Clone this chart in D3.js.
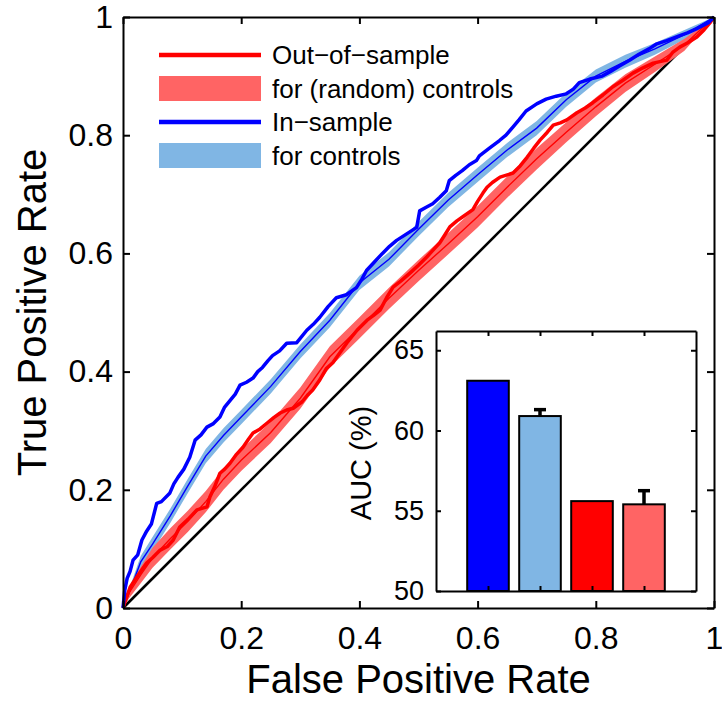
<!DOCTYPE html>
<html>
<head>
<meta charset="utf-8">
<script src="https://cdn.jsdelivr.net/npm/d3@7"></script>
<style>
  body { margin: 0; background: #fff; }
  svg { display: block; font-family: "Liberation Sans", Arial, Helvetica, sans-serif; }
</style>
</head>
<body>
<svg id="chart" width="722" height="702"></svg>
<script>
//DATA
// in-sample ROC curve [fpr, tpr]
const inSample = [[0,0],[.003,.03],[.007,.05],[.012,.062],[.017,.081],[.025,.09],[.032,.115],[.04,.13],[.048,.142],[.057,.177],[.065,.18],[.079,.194],[.086,.21],[.093,.221],[.103,.235],[.113,.255],[.122,.284],[.132,.293],[.142,.306],[.153,.312],[.164,.323],[.172,.34],[.181,.351],[.19,.362],[.198,.377],[.209,.382],[.22,.389],[.228,.4],[.236,.407],[.245,.418],[.253,.427],[.265,.435],[.277,.448],[.294,.449],[.311,.47],[.322,.48],[.333,.492],[.347,.51],[.361,.525],[.378,.53],[.395,.542],[.404,.556],[.412,.571],[.425,.585],[.439,.6],[.451,.612],[.463,.622],[.48,.633],[.497,.644],[.502,.672],[.513,.678],[.524,.684],[.536,.695],[.547,.706],[.552,.723],[.563,.732],[.574,.74],[.586,.75],[.598,.757],[.603,.765],[.62,.778],[.637,.791],[.648,.8],[.659,.813],[.67,.826],[.682,.841],[.7,.853],[.716,.861],[.733,.866],[.75,.87],[.762,.878],[.772,.889],[.79,.895],[.811,.9],[.825,.908],[.84,.917],[.857,.927],[.873,.937],[.89,.946],[.902,.954],[.92,.96],[.941,.968],[.955,.973],[.97,.98],[.99,.99],[1,1]]

// out-of-sample ROC curve [fpr, tpr]
const outSample = [[0,0],[.005,.015],[.012,.035],[.025,.055],[.04,.076],[.05,.085],[.063,.098],[.075,.104],[.085,.115],[.096,.137],[.11,.15],[.125,.166],[.142,.171],[.147,.188],[.155,.205],[.164,.228],[.172,.235],[.181,.245],[.192,.26],[.203,.272],[.212,.285],[.22,.296],[.232,.303],[.244,.313],[.255,.322],[.266,.33],[.277,.335],[.288,.338],[.303,.349],[.312,.36],[.321,.369],[.333,.386],[.344,.405],[.355,.415],[.367,.432],[.379,.449],[.396,.47],[.413,.487],[.424,.495],[.435,.504],[.446,.525],[.457,.543],[.47,.553],[.486,.567],[.5,.58],[.514,.594],[.525,.606],[.536,.618],[.545,.632],[.553,.645],[.565,.655],[.575,.662],[.592,.674],[.6,.688],[.609,.702],[.616,.712],[.625,.72],[.638,.729],[.66,.736],[.672,.748],[.684,.763],[.695,.778],[.706,.792],[.718,.805],[.728,.817],[.74,.821],[.751,.826],[.768,.838],[.782,.846],[.795,.855],[.812,.868],[.829,.882],[.846,.893],[.863,.905],[.88,.914],[.897,.922],[.92,.927],[.93,.94],[.942,.949],[.955,.956],[.971,.966],[.983,.978],[.993,.99],[1,1]]

// control curves, sampled on a common fpr grid
const ctrlFpr     = [0, .01, .03, .05, .08, .11, .14, .17, .2, .25, .3, .35, .4, .45, .5, .55, .6, .65, .7, .75, .8, .85, .9, .95, 1]
const ctrlInMean  = [0, .025, .078, .108, .156, .207, .257, .292, .323, .375, .434, .487, .55, .59, .641, .69, .733, .775, .812, .86, .9, .925, .946, .97, 1]
const ctrlInLow   = [0, .019, .068, .096, .144, .195, .245, .28, .311, .363, .422, .475, .538, .578, .629, .678, .721, .763, .8, .848, .889, .914, .936, .962, 1]
const ctrlInHigh  = [0, .031, .088, .12, .168, .219, .269, .304, .335, .387, .446, .499, .562, .602, .653, .702, .745, .787, .824, .872, .911, .936, .956, .978, 1]
const ctrlOutMean = [0, .025, .056, .085, .117, .147, .18, .218, .25, .297, .355, .425, .474, .524, .571, .616, .662, .712, .76, .805, .848, .888, .92, .953, 1]
const ctrlOutLow  = [0, .016, .042, .068, .099, .129, .162, .2, .232, .279, .337, .407, .456, .506, .553, .598, .644, .694, .742, .788, .832, .873, .907, .943, 1]
const ctrlOutHigh = [0, .034, .07, .102, .135, .165, .198, .236, .268, .315, .373, .443, .492, .542, .589, .634, .68, .73, .778, .822, .864, .903, .933, .963, 1]

// inset bars
const aucLabels = ['In-sample', 'In controls', 'Out-of-sample', 'Random controls']
const aucValues = [63.1, 60.9, 55.6, 55.4]
const aucErr    = [0, 0.4, 0, 0.85]
const aucColors = ['#0000ff', '#80b6e4', '#ff0000', '#ff6464']

const mainTicks = [0, 0.2, 0.4, 0.6, 0.8, 1]
const insetTicks = [50, 55, 60, 65]

const legendItems = [
  {label: 'Out\u2212of\u2212sample', type: 'line', color: '#ff0000'},
  {label: 'for (random) controls', type: 'rect', color: '#ff6464'},
  {label: 'In\u2212sample', type: 'line', color: '#0000ff'},
  {label: 'for controls', type: 'rect', color: '#80b6e4'}
]

//SETUP
const svg = d3.select('#chart')
const pL = 123, pR = 714, pT = 17, pB = 608

const x = d3.scaleLinear().domain([0, 1]).range([pL, pR])
const y = d3.scaleLinear().domain([0, 1]).range([pB, pT])

const fmt = d => d === 0 || d === 1 ? String(d) : d3.format('.1f')(d)

// diagonal chance line (drawn first so the bands sit over it)
svg.append('line')
  .attr('x1', x(0)).attr('y1', y(0))
  .attr('x2', x(1)).attr('y2', y(1))
  .attr('stroke', '#000').attr('stroke-width', 2.6)

// bands
const band = (lo, hi) => d3.area()
  .x((d, i) => x(ctrlFpr[i]))
  .y0((d, i) => y(lo[i]))
  .y1((d, i) => y(hi[i]))(ctrlFpr)

svg.append('path').attr('d', band(ctrlInLow, ctrlInHigh)).attr('fill', '#80b6e4')
svg.append('path').attr('d', band(ctrlOutLow, ctrlOutHigh)).attr('fill', '#ff6464')

const meanLine = d3.line().x((d, i) => x(ctrlFpr[i])).y(d => y(d))
svg.append('path').attr('d', meanLine(ctrlInMean))
  .attr('fill', 'none').attr('stroke', '#0000ff').attr('stroke-width', 1.4)
svg.append('path').attr('d', meanLine(ctrlOutMean))
  .attr('fill', 'none').attr('stroke', '#ff0000').attr('stroke-width', 1.4)

const roc = d3.line().x(d => x(d[0])).y(d => y(d[1]))
svg.append('path').attr('d', roc(outSample))
  .attr('fill', 'none').attr('stroke', '#ff0000').attr('stroke-width', 3.5)
  .attr('stroke-linejoin', 'round')
svg.append('path').attr('d', roc(inSample))
  .attr('fill', 'none').attr('stroke', '#0000ff').attr('stroke-width', 3.5)
  .attr('stroke-linejoin', 'round')

//AXES (matlab style box, ticks pointing in)
function styleAxis(g, size) {
  g.selectAll('.domain').attr('stroke', '#000').attr('stroke-width', 2)
  g.selectAll('.tick line').attr('stroke', '#000').attr('stroke-width', 2)
  g.selectAll('.tick text').attr('fill', '#000').style('font-size', size + 'px')
    .style('font-family', '"Liberation Sans", Arial, sans-serif')
}

svg.append('g').attr('transform', `translate(0,${pB})`)
  .call(d3.axisBottom(x).tickValues(mainTicks).tickFormat(fmt).tickSize(-7).tickSizeOuter(0).tickPadding(18))
  .call(g => styleAxis(g, 32))
svg.append('g').attr('transform', `translate(${pL},0)`)
  .call(d3.axisLeft(y).tickValues(mainTicks).tickFormat(fmt).tickSize(-7).tickSizeOuter(0).tickPadding(10))
  .call(g => styleAxis(g, 32))
svg.append('g').attr('transform', `translate(0,${pT})`)
  .call(d3.axisTop(x).tickValues(mainTicks).tickFormat('').tickSize(-7).tickSizeOuter(0))
  .call(g => styleAxis(g, 32))
svg.append('g').attr('transform', `translate(${pR},0)`)
  .call(d3.axisRight(y).tickValues(mainTicks).tickFormat('').tickSize(-7).tickSizeOuter(0))
  .call(g => styleAxis(g, 32))

svg.append('text')
  .attr('x', (pL + pR) / 2).attr('y', 693)
  .attr('text-anchor', 'middle').style('font-size', '40px')
  .text('False Positive Rate')
svg.append('text')
  .attr('transform', `translate(46,${(pT + pB) / 2}) rotate(-90)`)
  .attr('text-anchor', 'middle').style('font-size', '40px')
  .text('True Positive Rate')

//LEGEND
const leg = svg.append('g').attr('transform', 'translate(159,55)')
legendItems.forEach((d, i) => {
  const g = leg.append('g').attr('transform', `translate(0,${i * 33.5})`)
  if (d.type === 'line') {
    g.append('line').attr('x1', 0).attr('x2', 102).attr('y1', 0).attr('y2', 0)
      .attr('stroke', d.color).attr('stroke-width', 4.5)
  } else {
    g.append('rect').attr('x', 0).attr('y', -12.5).attr('width', 102).attr('height', 25)
      .attr('fill', d.color)
  }
  g.append('text').attr('x', 113).attr('y', 0).attr('dy', '0.35em')
    .style('font-size', '26px').text(d.label)
})

//INSET bar chart
const inL = 436, inR = 696, inT = 331, inB = 591
const ix = d3.scaleLinear().domain([0, 5]).range([inL, inR])
const iy = d3.scaleLinear().domain([50, 66.2]).range([inB, inT])

svg.append('rect').attr('x', inL).attr('y', inT)
  .attr('width', inR - inL).attr('height', inB - inT).attr('fill', '#fff')

const inset = svg.append('g')
inset.selectAll('.bar')
  .data(aucValues)
  .join('rect')
  .attr('class', 'bar')
  .attr('x', (d, i) => ix(i + 1 - 0.4))
  .attr('width', ix(0.8) - ix(0))
  .attr('y', d => iy(d))
  .attr('height', d => iy(50) - iy(d))
  .attr('fill', (d, i) => aucColors[i])
  .attr('stroke', '#000').attr('stroke-width', 2)

// one-sided error bars
aucValues.forEach((v, i) => {
  if (!aucErr[i]) return
  inset.append('line')
    .attr('x1', ix(i + 1)).attr('x2', ix(i + 1))
    .attr('y1', iy(v)).attr('y2', iy(v + aucErr[i]))
    .attr('stroke', '#000').attr('stroke-width', 3.5)
  inset.append('line')
    .attr('x1', ix(i + 1) - 6).attr('x2', ix(i + 1) + 6)
    .attr('y1', iy(v + aucErr[i])).attr('y2', iy(v + aucErr[i]))
    .attr('stroke', '#000').attr('stroke-width', 3.5)
})

svg.append('g').attr('transform', `translate(${inL},0)`)
  .call(d3.axisLeft(iy).tickValues(insetTicks).tickSize(-5).tickSizeOuter(0).tickPadding(12))
  .call(g => styleAxis(g, 27))
svg.append('g').attr('transform', `translate(${inR},0)`)
  .call(d3.axisRight(iy).tickValues(insetTicks).tickFormat('').tickSize(-5).tickSizeOuter(0))
  .call(g => styleAxis(g, 27))
svg.append('g').attr('transform', `translate(0,${inT})`)
  .call(d3.axisTop(ix).tickValues([1, 2, 3, 4]).tickFormat('').tickSize(-5).tickSizeOuter(0))
  .call(g => styleAxis(g, 27))
svg.append('g').attr('transform', `translate(0,${inB})`)
  .call(d3.axisBottom(ix).tickValues([1, 2, 3, 4]).tickFormat('').tickSize(-5).tickSizeOuter(0))
  .call(g => styleAxis(g, 27))

svg.append('text')
  .attr('transform', `translate(371,${(inT + inB) / 2 + 2}) rotate(-90)`)
  .attr('text-anchor', 'middle').style('font-size', '29px')
  .text('AUC (%)')
</script>
</body>
</html>
